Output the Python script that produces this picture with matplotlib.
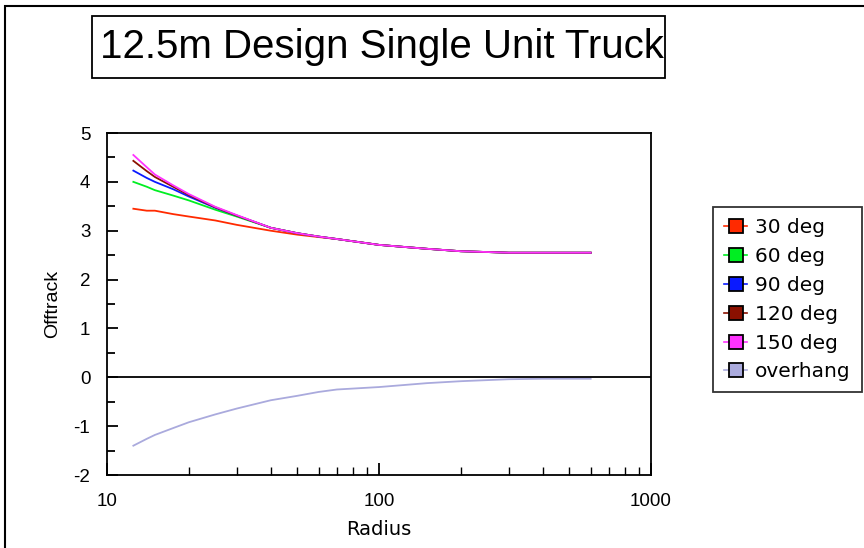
import matplotlib.pyplot as plt
from matplotlib.patches import Rectangle
from matplotlib.lines import Line2D
from matplotlib.ticker import LogLocator, MultipleLocator, NullFormatter

plt.rcParams['font.family'] = ['Liberation Sans', 'DejaVu Sans']
plt.rcParams['axes.unicode_minus'] = False

radius = [12.5, 14, 15, 17.5, 20, 25, 30, 40, 50, 60, 70, 100, 150, 200, 300, 400, 500, 600]
deg30 = [3.45, 3.41, 3.41, 3.34, 3.29, 3.21, 3.12, 3.00, 2.92, 2.87, 2.83, 2.71, 2.63, 2.58, 2.55, 2.55, 2.55, 2.55]
deg60 = [4.00, 3.90, 3.83, 3.72, 3.62, 3.43, 3.29, 3.06, 2.95, 2.88, 2.83, 2.71, 2.63, 2.58, 2.55, 2.55, 2.55, 2.55]
deg90 = [4.23, 4.08, 4.00, 3.85, 3.70, 3.47, 3.31, 3.06, 2.95, 2.88, 2.83, 2.71, 2.63, 2.58, 2.55, 2.55, 2.55, 2.55]
deg120 = [4.43, 4.22, 4.10, 3.90, 3.73, 3.48, 3.31, 3.06, 2.95, 2.88, 2.83, 2.71, 2.63, 2.58, 2.55, 2.55, 2.55, 2.55]
deg150 = [4.55, 4.30, 4.15, 3.93, 3.75, 3.49, 3.32, 3.06, 2.95, 2.88, 2.83, 2.71, 2.63, 2.58, 2.55, 2.55, 2.55, 2.55]
overhang = [-1.40, -1.26, -1.18, -1.04, -0.92, -0.76, -0.64, -0.47, -0.38, -0.30, -0.25, -0.20, -0.12, -0.08, -0.04, -0.03, -0.03, -0.03]

labels = ['30 deg', '60 deg', '90 deg', '120 deg', '150 deg', 'overhang']
colors = ['#ff2a00', '#00ee22', '#0a1aff', '#8b1000', '#ff33ff', '#aaaadd']
series = [deg30, deg60, deg90, deg120, deg150, overhang]

fig = plt.figure(figsize=(8.64, 5.48), dpi=100)
ax = fig.add_axes([107/864, 1 - 475/548, 544/864, 342/548])

for s, c, lab in zip(series, colors, labels):
    ax.plot(radius, s, color=c, lw=1.3, label=lab)

ax.axhline(0, color='black', lw=1.3)
ax.set_xscale('log')
ax.set_xlim(10, 1000)
ax.set_ylim(-2, 5)
ax.yaxis.set_major_locator(MultipleLocator(1))
ax.yaxis.set_minor_locator(MultipleLocator(0.5))
ax.xaxis.set_major_locator(LogLocator(base=10))
ax.xaxis.set_minor_locator(LogLocator(base=10, subs=range(2, 10)))
ax.xaxis.set_minor_formatter(NullFormatter())
ax.xaxis.set_major_formatter(plt.FuncFormatter(lambda v, p: '%d' % v))
ax.tick_params(axis='x', which='major', direction='in', length=9, width=1.3, labelsize=13.5, pad=13)
ax.tick_params(axis='x', which='minor', direction='in', length=6, width=1)
ax.tick_params(axis='y', which='major', direction='in', length=8, width=1.3, labelsize=13.5, pad=12)
ax.tick_params(axis='y', which='minor', direction='in', length=6, width=1.3)
for sp in ax.spines.values():
    sp.set_linewidth(1.3)
ax.set_xlabel('Radius', fontsize=14, family='DejaVu Sans')
ax.xaxis.set_label_coords(0.5, -0.132)
ax.set_ylabel('Offtrack', fontsize=14)
ax.yaxis.set_label_coords(-0.085, 0.5)

handles = [Line2D([0], [0], color=c, marker='s', markersize=10.5, markerfacecolor=c,
                  markeredgecolor='black', markeredgewidth=1.3, lw=1.2) for c in colors]
leg = fig.legend(handles, labels, loc='upper left', bbox_to_anchor=(713/864, 1 - 207/548),
                 prop={'family': 'DejaVu Sans', 'size': 14.5}, frameon=True, fancybox=False,
                 handlelength=1.15, handletextpad=0.4, borderpad=0.55, labelspacing=0.49,
                 borderaxespad=0)
leg.get_frame().set_edgecolor('black')
leg.get_frame().set_linewidth(1.3)

fig.patches.append(Rectangle((92/864, 1 - 78/548), 573/864, 62/548, transform=fig.transFigure,
                             facecolor='white', edgecolor='black', lw=1.3))
fig.text(100/864, 1 - 47/548, '12.5m Design Single Unit Truck', fontsize=29, va='center', ha='left')

fig.patches.append(Rectangle((5/864, -0.1), 1.1, 1 - 6/548 + 0.1, transform=fig.transFigure,
                             fill=False, edgecolor='black', lw=1.5))

fig.savefig('out.png', dpi=100)
